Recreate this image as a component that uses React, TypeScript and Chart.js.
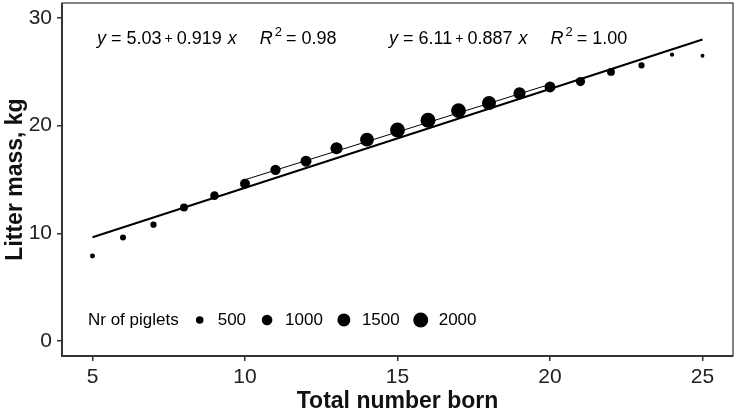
import { useEffect, useRef } from "react";
import { Chart, registerables } from "chart.js";
Chart.register(...registerables);

const totalBorn = [5, 6, 7, 8, 9, 10, 11, 12, 13, 14, 15, 16, 17, 18, 19, 20, 21, 22, 23, 24, 25];
const litterMass = [7.9, 9.6, 10.8, 12.4, 13.5, 14.6, 15.9, 16.7, 17.9, 18.7, 19.6, 20.5, 21.4, 22.1, 23.0, 23.6, 24.1, 25.0, 25.6, 26.6, 26.5];
const piglets = [220, 320, 340, 560, 650, 880, 950, 1070, 1300, 1700, 1950, 2000, 1950, 1750, 1300, 1050, 750, 550, 330, 150, 130];

const fitAllX = [5, 25];
const fitAllY = [9.63, 28.01];
const fitMidX = [10, 20];
const fitMidY = [14.98, 23.85];

const xTicks = [5, 10, 15, 20, 25];
const yTicks = [0, 10, 20, 30];
const legendSizes = [500, 1000, 1500, 2000];

const eqAll = { a: "5.03", b: "0.919", r2: "0.98" };
const eqMid = { a: "6.11", b: "0.887", r2: "1.00" };

const FONT = "'Liberation Sans', Arial, sans-serif";
const radiusOf = (n: number) => 0.168 * Math.sqrt(n);

export default function App() {
  const ref = useRef<HTMLCanvasElement | null>(null);
  useEffect(() => {
    document.body.style.margin = "0";
    const canvas = ref.current;
    if (!canvas) return;

    const drawEq = (
      ctx: CanvasRenderingContext2D,
      x: number,
      y: number,
      eq: { a: string; b: string; r2: string }
    ) => {
      const size = 18;
      type Seg = { t: string; it?: boolean; sup?: boolean; small?: boolean; gap: number };
      const segs: Seg[] = [
        { t: "y", it: true, gap: 5 },
        { t: "=", gap: 5 },
        { t: eq.a, gap: 3 },
        { t: "+", small: true, gap: 4 },
        { t: eq.b, gap: 6 },
        { t: "x", it: true, gap: 23 },
        { t: "R", it: true, gap: 2 },
        { t: "2", sup: true, gap: 4 },
        { t: "=", gap: 5 },
        { t: eq.r2, gap: 0 },
      ];
      const fontOf = (s: Seg) => `${s.it ? "italic " : ""}${s.sup ? 13 : s.small ? 14 : size}px ${FONT}`;
      let cx = x;
      ctx.fillStyle = "#000";
      ctx.textBaseline = "alphabetic";
      ctx.textAlign = "left";
      for (const s of segs) {
        ctx.font = fontOf(s);
        ctx.fillText(s.t, cx, s.sup ? y - 8 : s.small ? y - 1 : y);
        cx += ctx.measureText(s.t).width + s.gap;
      }
    };

    const overlay = {
      id: "overlay",
      afterDraw(chart: any) {
        const ctx = chart.ctx as CanvasRenderingContext2D;
        const { left, right, top, bottom } = chart.chartArea;
        ctx.save();
        // frame
        ctx.strokeStyle = "#333";
        ctx.lineWidth = 1.2;
        ctx.strokeRect(left, top, right - left, bottom - top);
        ctx.lineWidth = 2;
        ctx.beginPath();
        ctx.moveTo(left, top);
        ctx.lineTo(left, bottom);
        ctx.lineTo(right, bottom);
        ctx.stroke();
        // equations
        const ys = chart.scales.y;
        const eqY = ys.getPixelForValue(27.6);
        drawEq(ctx, left + 35, eqY, eqAll);
        drawEq(ctx, left + 327, eqY, eqMid);
        // legend
        const ly = ys.getPixelForValue(1.95);
        ctx.font = `17px ${FONT}`;
        ctx.textBaseline = "middle";
        ctx.fillStyle = "#000";
        let cx = left + 26;
        ctx.fillText("Nr of piglets", cx, ly);
        cx += ctx.measureText("Nr of piglets").width + 21;
        for (const n of legendSizes) {
          ctx.beginPath();
          ctx.arc(cx, ly, radiusOf(n), 0, Math.PI * 2);
          ctx.fill();
          cx += 18;
          const lbl = String(n);
          ctx.fillText(lbl, cx, ly);
          cx += ctx.measureText(lbl).width + 21;
        }
        ctx.restore();
      },
    };

    const chart = new Chart(canvas, {
      type: "scatter",
      data: {
        datasets: [
          {
            label: "fit all",
            data: fitAllX.map((x, i) => ({ x, y: fitAllY[i] })),
            showLine: true,
            borderColor: "#000",
            borderWidth: 2,
            pointRadius: 0,
          },
          {
            label: "fit mid",
            data: fitMidX.map((x, i) => ({ x, y: fitMidY[i] })),
            showLine: true,
            borderColor: "#000",
            borderWidth: 1,
            pointRadius: 0,
          },
          {
            label: "litters",
            data: totalBorn.map((x, i) => ({ x, y: litterMass[i] })),
            pointRadius: piglets.map(radiusOf),
            pointBackgroundColor: "#000",
            pointBorderWidth: 0,
            pointBorderColor: "#000",
          },
        ],
      },
      options: {
        animation: false,
        responsive: false,
        layout: { autoPadding: false, padding: { top: 3, right: 5, left: 0, bottom: 0 } },
        plugins: { legend: { display: false }, tooltip: { enabled: false } },
        scales: {
          x: {
            type: "linear",
            min: 4,
            max: 26,
            afterBuildTicks: (s: any) => {
              s.ticks = xTicks.map((v) => ({ value: v }));
            },
            afterFit: (s: any) => {
              s.height = 59;
              s.paddingLeft = 0;
              s.paddingRight = 0;
            },
            grid: { drawOnChartArea: false, drawTicks: true, tickLength: 5, color: "#333", lineWidth: 1.5 },
            border: { display: false },
            ticks: { color: "#222", font: { family: FONT, size: 21 }, padding: 4, maxRotation: 0 },
            title: {
              display: true,
              text: "Total number born",
              color: "#111",
              font: { family: FONT, size: 23, weight: "bold" },
              padding: { top: 0, bottom: 0 },
            },
          },
          y: {
            type: "linear",
            min: -1.4,
            max: 31.4,
            afterBuildTicks: (s: any) => {
              s.ticks = yTicks.map((v) => ({ value: v }));
            },
            afterFit: (s: any) => {
              s.width = 62;
              s.paddingTop = 0;
              s.paddingBottom = 0;
            },
            grid: { drawOnChartArea: false, drawTicks: true, tickLength: 5, color: "#333", lineWidth: 1.5 },
            border: { display: false },
            ticks: { color: "#222", font: { family: FONT, size: 21 }, padding: 5 },
            title: {
              display: true,
              text: "Litter mass, kg",
              color: "#111",
              font: { family: FONT, size: 23, weight: "bold" },
              padding: { top: 2, bottom: 0 },
            },
          },
        },
      },
      plugins: [overlay],
    } as any);
    return () => chart.destroy();
  }, []);
  return (
    <div style={{ width: 738, height: 415 }}>
      <canvas ref={ref} width={738} height={415} style={{ width: 738, height: 415, display: "block" }} />
    </div>
  );
}
